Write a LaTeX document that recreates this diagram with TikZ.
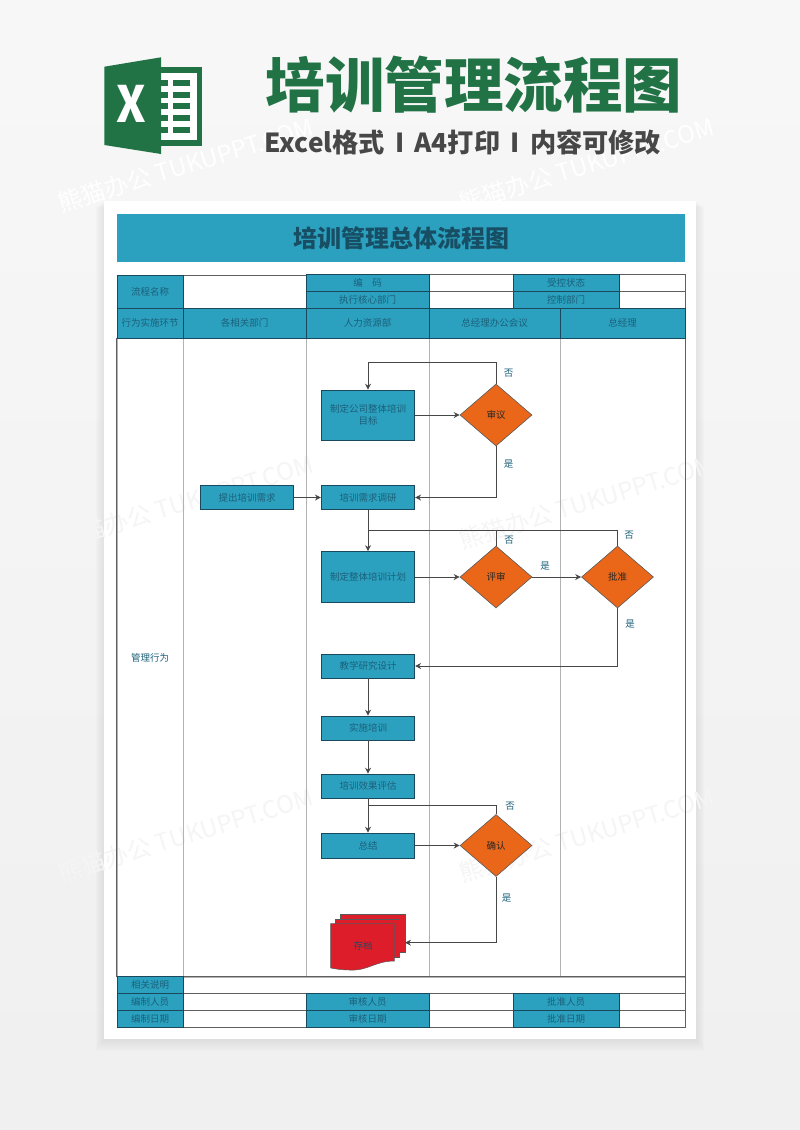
\documentclass[tikz,border=0pt]{standalone}
\usepackage{fontspec}
\setmainfont{Noto Sans CJK SC}
\usepackage{tikz}
\usetikzlibrary{arrows.meta,shapes.geometric}
\usepackage{xcolor}
\definecolor{teal}{RGB}{43,161,191}
\definecolor{tealtext}{RGB}{28,96,122}
\definecolor{titletext}{RGB}{24,78,100}
\definecolor{tealedge}{RGB}{26,72,92}
\definecolor{excelgreen}{RGB}{33,115,70}
\definecolor{decision}{RGB}{234,103,25}
\definecolor{archive}{RGB}{221,29,41}
\definecolor{gridline}{RGB}{95,95,95}

\begin{document}
\begin{tikzpicture}[
    x=1pt,y=-1pt,>=Stealth,
    lab/.style={font=\fontsize{9.5}{11.5}\selectfont,text=tealtext,align=center,inner sep=0pt},
    head/.style={draw=tealedge,line width=0.6pt,fill=teal,lab,minimum height=#1,anchor=center},
    head/.default=17pt,
    blank/.style={draw=gridline,line width=0.6pt,minimum height=#1,inner sep=0pt},
    blank/.default=17pt,
    lane/.style={draw=black!30,line width=0.9pt,inner sep=0pt},
    stepbox/.style={draw=tealedge,line width=0.6pt,fill=teal,lab,minimum width=93.5pt,text width=88pt},
    check/.style={diamond,draw=black!65,line width=0.6pt,fill=decision,minimum width=72pt,minimum height=62pt,inner sep=0pt,font=\fontsize{9.5}{11.5}\selectfont,text=black!85},
    flow/.style={->,draw=black!72,line width=0.9pt,>={Stealth[length=6pt,width=6pt]}},
    trunk/.style={draw=black!72,line width=0.9pt},
    leaf/.style={draw=black!65,line width=0.5pt,fill=archive},
    branch/.style={lab},
    wm/.style={font=\fontsize{24}{26}\selectfont,rotate=17,inner sep=0pt}
]
\useasboundingbox (0,0) rectangle (800,1130);
\shade[top color=black!3,bottom color=black!6] (0,0) rectangle (800,1130);

% sheet
\foreach \s in {12,10,8,6,4,2}
  \fill[black,opacity=0.012] (104-0.7*\s,201+0.5*\s) rectangle (696+0.7*\s,1039+\s);
\fill[white] (104,201) rectangle (696,1039);

% watermark
\foreach \wx in {186,587} {
  \node[wm,text=white] (wmtop\wx) at (\wx,165) {熊猫办公 TUKUPPT.COM};
  \foreach \wy in {502,835}
    \node[wm,text=black!4] (wm\wx\wy) at (\wx,\wy) {熊猫办公 TUKUPPT.COM};
}

% logo
\fill[excelgreen] (161,67.3) rectangle (202.3,145.7);
\fill[white] (161,72.7) rectangle (196.7,140);
\foreach \ry in {80,91.7,103.3,115,126.7} {
  \fill[excelgreen] (161,\ry) rectangle (167.7,\ry+6);
  \fill[excelgreen] (173.3,\ry) rectangle (190,\ry+6);
}
\fill[excelgreen] (104.3,66.7) -- (161,57.3) -- (161,154) -- (104.3,145) -- cycle;
\node[font=\fontsize{50}{50}\selectfont\bfseries,text=white,xscale=0.9,inner sep=0pt] (logox) at (131.7,104) {X};

% heading
\node[font=\fontsize{59.5}{62}\selectfont\bfseries,text=excelgreen,inner sep=0pt] (bigtitle) at (474,85) {培训管理流程图};
\node[font=\fontsize{26.2}{28}\selectfont\bfseries,text=black!72,inner sep=0pt] (subtitle) at (463,142) {Excel格式 \,I\, A4打印 \,I\, 内容可修改};

% title bar
\node[fill=teal,minimum width=568pt,minimum height=48pt,inner sep=0pt,font=\fontsize{24}{26}\selectfont\bfseries,text=titletext] (bar) at (401,238) {培训管理总体流程图};

% form
\node[blank=33pt,minimum width=123pt] (nameval) at (244.5,291.5) {};
\node[blank,minimum width=84pt] (codeval) at (471,283) {};
\node[blank,minimum width=66pt] (statusval) at (652,283) {};
\node[blank,minimum width=84pt] (execval) at (471,299.5) {};
\node[blank,minimum width=66pt] (ctrlval) at (652,299.5) {};
\node[head=33pt,minimum width=66pt] (name) at (150,291.5) {流程名称};
\node[head,minimum width=123pt] (code) at (367.5,283) {编\quad 码};
\node[head,minimum width=106pt] (status) at (566,283) {受控状态};
\node[head,minimum width=123pt] (exec) at (367.5,299.5) {执行核心部门};
\node[head,minimum width=106pt] (ctrl) at (566,299.5) {控制部门};

% lanes
\node[lane,minimum width=66pt,minimum height=639pt,lab] (lane1) at (150,657.5) {管理行为};
\node[lane,minimum width=123pt,minimum height=639pt] (lane2) at (244.5,657.5) {};
\node[lane,minimum width=123pt,minimum height=639pt] (lane3) at (367.5,657.5) {};
\node[lane,minimum width=131pt,minimum height=639pt] (lane4) at (494.5,657.5) {};
\node[lane,minimum width=125pt,minimum height=639pt] (lane5) at (622.5,657.5) {};
\draw[draw=gridline,line width=0.6pt] (lane1.north west) -- (lane1.south west) (lane5.north east) -- (lane5.south east);

\node[head=30pt,minimum width=66pt] (act) at (150,323) {行为实施环节};
\node[head=30pt,minimum width=123pt] (dept) at (244.5,323) {各相关部门};
\node[head=30pt,minimum width=123pt] (hr) at (367.5,323) {人力资源部};
\node[head=30pt,minimum width=131pt] (office) at (494.5,323) {总经理办公会议};
\node[head=30pt,minimum width=125pt] (gm) at (622.5,323) {总经理};

% footer
\node[blank,minimum width=502pt] (noteval) at (434,985) {};
\node[blank,minimum width=123pt] (authorval) at (244.5,1001.5) {};
\node[blank,minimum width=84pt] (reviewval) at (471,1001.5) {};
\node[blank,minimum width=66pt] (apprval) at (652,1001.5) {};
\node[blank,minimum width=123pt] (adateval) at (244.5,1018.5) {};
\node[blank,minimum width=84pt] (rdateval) at (471,1018.5) {};
\node[blank,minimum width=66pt] (pdateval) at (652,1018.5) {};
\node[head,minimum width=66pt] (note) at (150,985) {相关说明};
\node[head,minimum width=66pt] (author) at (150,1001.5) {编制人员};
\node[head,minimum width=123pt] (review) at (367.5,1001.5) {审核人员};
\node[head,minimum width=106pt] (appr) at (566,1001.5) {批准人员};
\node[head,minimum width=66pt] (adate) at (150,1018.5) {编制日期};
\node[head,minimum width=123pt] (rdate) at (367.5,1018.5) {审核日期};
\node[head,minimum width=106pt] (pdate) at (566,1018.5) {批准日期};

% steps
\node[stepbox,minimum height=50pt] (goal) at (368,415) {制定公司整体培训\\目标};
\node[stepbox,minimum height=24pt] (need) at (247,497.5) {提出培训需求};
\node[stepbox,minimum height=24pt] (survey) at (368,497.5) {培训需求调研};
\node[stepbox,minimum height=51pt] (plan) at (368,577) {制定整体培训计划};
\node[stepbox,minimum height=24pt] (design) at (368,666) {教学研究设计};
\node[stepbox,minimum height=24pt] (run) at (368,728) {实施培训};
\node[stepbox,minimum height=24pt] (eval) at (368,786) {培训效果评估};
\node[stepbox,minimum height=25pt] (sum) at (368,845.5) {总结};

\node[check] (audit) at (496,415) {审议};
\node[check] (review2) at (496,577) {评审};
\node[check] (ok) at (617.5,577) {批准};
\node[check] (confirm) at (496,845.5) {确认};

% archive
\draw[leaf] (340.7,914) rectangle (405,952);
\draw[leaf] (335.7,919) rectangle (399.7,957);
\draw[leaf] (330.7,923.7) -- (394.3,923.7) -- (394.3,961) .. controls (375,961) and (368,971) .. (350,970) .. controls (342,970) and (336,969) .. (330.7,968) -- cycle;
\coordinate (stack) at (405,942.7);
\node[lab,text=titletext] (doc) at (363,945.5) {存档};

% connectors
\coordinate (top1) at (368,362);
\coordinate (join1) at (368,530);
\coordinate (join2) at (368,805.3);
\draw[flow] (goal) -- (audit);
\draw[flow] (audit.north) |- (top1) -- (goal.north);
\draw[flow] (audit.south) |- (survey.east);
\draw[flow] (need) -- (survey);
\draw[flow] (survey) -- (plan);
\draw[flow] (plan) -- (review2);
\draw[flow] (review2) -- (ok);
\draw[trunk] (review2.north) |- (join1);
\draw[trunk] (ok.north) |- (join1);
\draw[flow] (ok.south) |- (design.east);
\draw[flow] (design) -- (run);
\draw[flow] (run) -- (eval);
\draw[flow] (eval) -- (sum);
\draw[flow] (sum) -- (confirm);
\draw[trunk] (confirm.north) |- (join2);
\draw[flow] (confirm.south) |- (stack);

% branch labels
\node[branch] (no1) at (508.5,373) {否};
\node[branch] (yes1) at (508.5,464) {是};
\node[branch] (no2) at (509,540) {否};
\node[branch] (yes2) at (545,566) {是};
\node[branch] (no3) at (629,535) {否};
\node[branch] (yes3) at (630,624) {是};
\node[branch] (no4) at (510,806) {否};
\node[branch] (yes4) at (506.5,898) {是};
\end{tikzpicture}
\end{document}
